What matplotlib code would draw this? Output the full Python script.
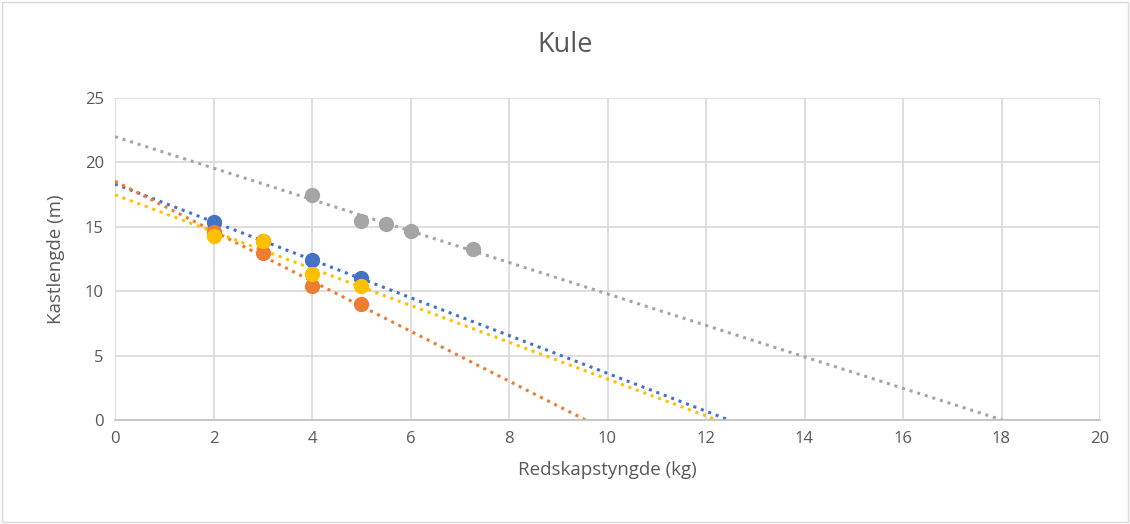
import matplotlib

matplotlib.use("Agg")
import matplotlib.pyplot as plt
import numpy as np

# weights (kg) and throw lengths (m) per series
blue_x = [2, 3, 4, 5]
blue_y = [15.4, 13.9, 12.4, 11.0]
orange_x = [2, 3, 4, 5]
orange_y = [14.6, 13.0, 10.4, 9.0]
gray_x = [4, 5, 5.5, 6, 7.26]
gray_y = [17.45, 15.45, 15.25, 14.65, 13.3]
yellow_x = [2, 3, 4, 5]
yellow_y = [14.3, 13.9, 11.3, 10.4]

BLUE, ORANGE, GRAY, YELLOW = "#4472C4", "#ED7D31", "#A5A5A5", "#FFC000"
TXT = "#595959"
plt.rcParams["font.family"] = ["Open Sans", "DejaVu Sans"]

fig = plt.figure(figsize=(11.3, 5.24), dpi=100, facecolor="white")
ax = fig.add_axes([115 / 1130, 1 - 420 / 524, 985 / 1130, 322 / 524])


def trend(x, y, color):
    k, m = np.polyfit(x, y, 1)
    root = -m / k
    xs = np.array([0, root])
    ax.plot(xs, k * xs + m, ls=(0, (1, 1.6)), lw=2.2, color=color, zorder=2)


series = [(blue_x, blue_y, BLUE), (orange_x, orange_y, ORANGE),
          (gray_x, gray_y, GRAY), (yellow_x, yellow_y, YELLOW)]
for x, y, c in series:
    trend(x, y, c)
for x, y, c in series:
    ax.plot(x, y, "o", ms=10, color=c, mec=c, zorder=3)

ax.set_xlim(0, 20)
ax.set_ylim(0, 25)
ax.set_xticks(range(0, 21, 2))
ax.set_yticks(range(0, 26, 5))
ax.grid(True, color="#D9D9D9", lw=1.2)
ax.set_axisbelow(True)
for s in ("top", "right", "left"):
    ax.spines[s].set_visible(False)
ax.spines["bottom"].set_color("#BFBFBF")
ax.spines["bottom"].set_linewidth(1.2)
ax.tick_params(length=0, labelsize=12, labelcolor=TXT, pad=8)
ax.set_xlabel("Redskapstyngde (kg)", fontsize=13.5, color=TXT, labelpad=10)
ax.set_ylabel("Kastlengde (m)", fontsize=13.5, color=TXT, labelpad=14)
fig.text(0.5, 1 - 45 / 524, "Kule", ha="center", va="center", fontsize=19.5, color=TXT)

fig.patches.append(plt.Rectangle((0.002, 0.003), 0.996, 0.994, transform=fig.transFigure,
                                 fill=False, ec="#D9D9D9", lw=1))
fig.savefig("out.png", dpi=100, facecolor="white")
